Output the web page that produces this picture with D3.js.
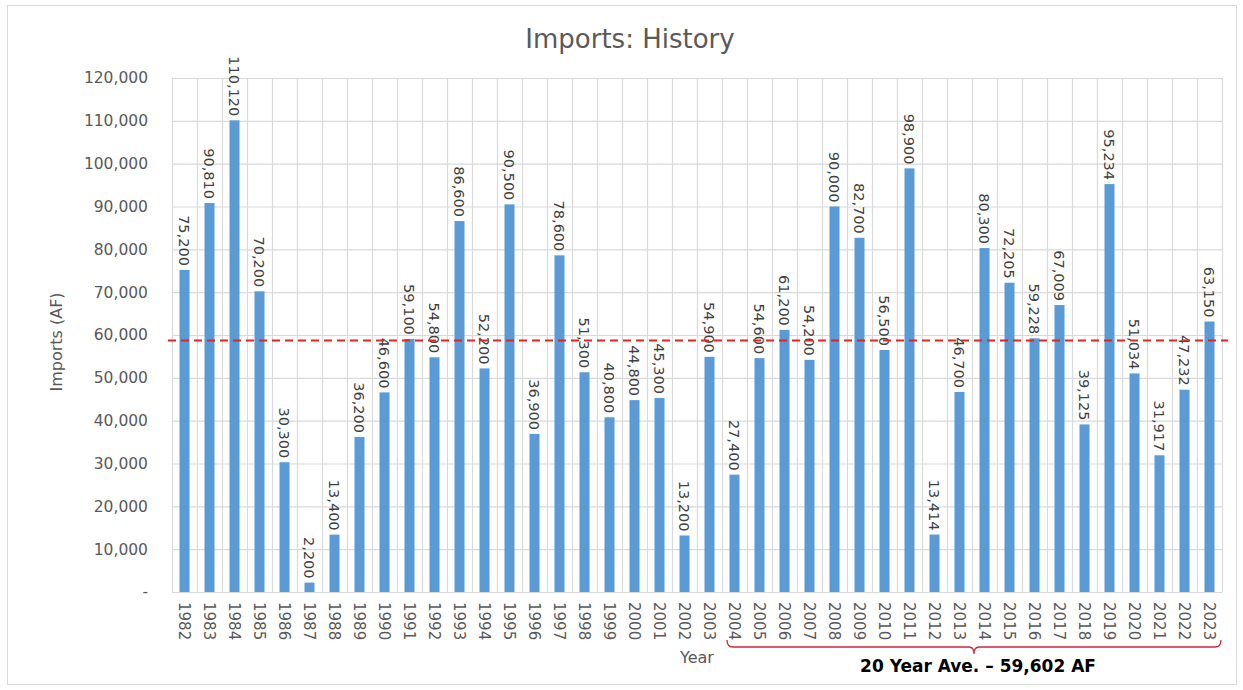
<!DOCTYPE html>
<html><head><meta charset="utf-8">
<script src="https://cdn.jsdelivr.net/npm/d3@7"></script>
<style>body{margin:0;background:#fff;}svg{display:block;font-family:"DejaVu Sans",sans-serif;}</style>
</head><body>
<svg id="c" width="1243" height="690"></svg>
<script>
const years = [1982,1983,1984,1985,1986,1987,1988,1989,1990,1991,1992,1993,1994,1995,1996,1997,1998,1999,2000,2001,2002,2003,2004,2005,2006,2007,2008,2009,2010,2011,2012,2013,2014,2015,2016,2017,2018,2019,2020,2021,2022,2023];
const imports = [75200,90810,110120,70200,30300,2200,13400,36200,46600,59100,54800,86600,52200,90500,36900,78600,51300,40800,44800,45300,13200,54900,27400,54600,61200,54200,90000,82700,56500,98900,13414,46700,80300,72205,59228,67009,39125,95234,51034,31917,47232,63150];
const yTicks = [0,10000,20000,30000,40000,50000,60000,70000,80000,90000,100000,110000,120000];
const avgLineValue = 58700;
const bracketStart = 2004, bracketEnd = 2023;
const bracketText = "20 Year Ave. \u2013 59,602 AF";
const title = "Imports: History";
const yTitle = "Imports (AF)";
const xTitle = "Year";

const svg = d3.select("#c");
const L = 172, R = 1222, T = 78, B = 592;
const grid = "#d9d9d9", txt = "#595959";

svg.append("rect").attr("x",7.5).attr("y",5.5).attr("width",1229).attr("height",679)
  .attr("fill","#fff").attr("stroke","#d9d9d9");

const x = d3.scaleBand().domain(years).range([L,R]).paddingInner(0.6).paddingOuter(0.3);
const xb = d3.scaleBand().domain(years).range([L,R]);
const y = d3.scaleLinear().domain([0,120000]).range([B,T]);

// horizontal gridlines
svg.append("g").selectAll("line").data(yTicks).join("line")
  .attr("x1",L).attr("x2",R).attr("y1",d=>y(d)+0.5).attr("y2",d=>y(d)+0.5)
  .attr("stroke",grid).attr("stroke-width",1.2);
// vertical gridlines
const vb = years.map(d=>xb(d)).concat([R]);
svg.append("g").selectAll("line").data(vb).join("line")
  .attr("x1",d=>Math.round(d)+0.5).attr("x2",d=>Math.round(d)+0.5).attr("y1",T).attr("y2",B)
  .attr("stroke",grid).attr("stroke-width",1.2);

// y axis labels
svg.append("g").selectAll("text").data(yTicks).join("text")
  .attr("x",148).attr("y",d=>y(d)).attr("dy","0.35em").attr("text-anchor","end")
  .attr("fill",txt).attr("font-size",15.5)
  .text(d=> d===0 ? "-" : d3.format(",")(d));

// bars
svg.append("g").selectAll("rect").data(imports).join("rect")
  .attr("x",(d,i)=>x(years[i])).attr("width",x.bandwidth())
  .attr("y",d=>y(d)).attr("height",d=>B-y(d)).attr("fill","#5b9bd5");

// value labels
svg.append("g").selectAll("text").data(imports).join("text")
  .attr("transform",(d,i)=>`translate(${xb(years[i])+xb.bandwidth()/2},${y(d)-4}) rotate(90)`)
  .attr("text-anchor","end").attr("dy","0.35em")
  .attr("fill","#404040").attr("font-size",14.5)
  .text(d=>d3.format(",")(d));

// year labels
svg.append("g").selectAll("text").data(years).join("text")
  .attr("transform",d=>`translate(${xb(d)+xb.bandwidth()/2},${B+10}) rotate(90)`)
  .attr("text-anchor","start").attr("dy","0.35em")
  .attr("fill",txt).attr("font-size",15)
  .text(d=>d);

// average line
svg.append("line").attr("x1",168).attr("x2",1228).attr("y1",y(avgLineValue)).attr("y2",y(avgLineValue))
  .attr("stroke","#e02424").attr("stroke-width",2).attr("stroke-dasharray","8,5");

// title
svg.append("text").attr("x",630).attr("y",48).attr("text-anchor","middle")
  .attr("fill",txt).attr("font-size",26).text(title);
svg.append("text").attr("transform","translate(62,342) rotate(-90)").attr("text-anchor","middle")
  .attr("fill",txt).attr("font-size",16).text(yTitle);
svg.append("text").attr("x",697).attr("y",663).attr("text-anchor","middle")
  .attr("fill",txt).attr("font-size",16).text(xTitle);

// bracket
const bx1 = xb(bracketStart)+5, bx2 = R-1, bm = (bx1+bx2)/2, by = 647;
const p = d3.path();
p.moveTo(bx1, by-7);
p.quadraticCurveTo(bx1, by, bx1+6, by);
p.lineTo(bm-5, by);
p.quadraticCurveTo(bm, by, bm, by+7);
p.quadraticCurveTo(bm, by, bm+5, by);
p.lineTo(bx2-6, by);
p.quadraticCurveTo(bx2, by, bx2, by-7);
svg.append("path").attr("d",p.toString()).attr("fill","none").attr("stroke","#c8283c").attr("stroke-width",1.3);
svg.append("text").attr("x",bm+4).attr("y",672).attr("text-anchor","middle")
  .attr("fill","#000").attr("font-size",17).attr("font-weight","bold").text(bracketText);
</script>
</body></html>
